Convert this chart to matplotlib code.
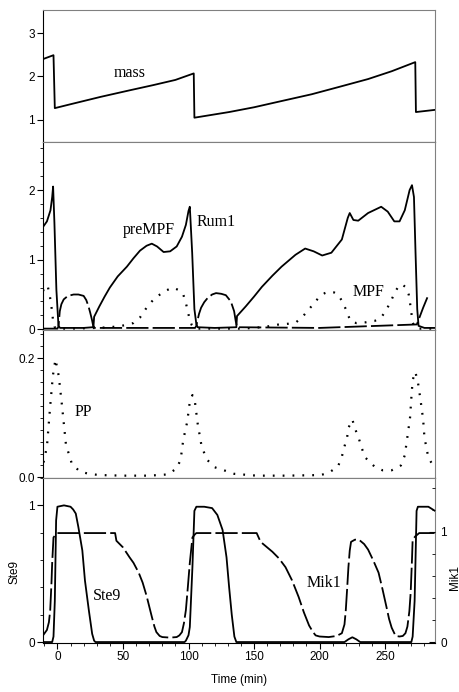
import matplotlib
matplotlib.use('Agg')
import matplotlib.pyplot as plt
from matplotlib.ticker import MultipleLocator

plt.rcParams['font.family'] = ['Liberation Sans', 'DejaVu Sans']
plt.rcParams['lines.scale_dashes'] = False

## --- data (time in min) ---
mass_t = [-11, -3, -2, 10, 33, 55, 73, 90, 104, 104.5, 131, 150, 169, 194, 215, 237, 255, 273, 273.5, 288]
mass_v = [2.40, 2.49, 1.27, 1.36, 1.53, 1.68, 1.80, 1.92, 2.07, 1.05, 1.18, 1.29, 1.42, 1.59, 1.76, 1.94, 2.12, 2.33, 1.18, 1.23]

premp_t = [-11, -8, -5.3, -4, -3.3, -2.3, -0.8, 0.8, 2, 10, 20, 27, 27.5, 28, 32, 36, 40, 46, 53, 58, 63,
           68, 72, 76, 81, 86, 91, 95, 98, 100, 101, 102.8, 104.5, 106, 107, 120, 136.5, 137, 143.7, 150,
           156, 164, 171, 181.6, 189, 195.5, 202, 209, 217, 221.5, 223, 225.8, 229.5, 237, 247, 252, 257,
           261, 265, 268.7, 270.5, 272, 273.2, 274.5, 275.5, 280, 288]
premp_v = [1.47, 1.55, 1.71, 1.90, 2.05, 1.53, 0.57, 0.05, 0.02, 0.02, 0.02, 0.03, 0.04, 0.18, 0.33, 0.47,
           0.60, 0.76, 0.90, 1.02, 1.13, 1.20, 1.23, 1.19, 1.11, 1.12, 1.19, 1.33, 1.50, 1.70, 1.76, 1.10,
           0.29, 0.07, 0.03, 0.02, 0.03, 0.19, 0.33, 0.47, 0.61, 0.77, 0.90, 1.07, 1.16, 1.12, 1.06, 1.10,
           1.29, 1.60, 1.67, 1.57, 1.56, 1.67, 1.76, 1.69, 1.55, 1.55, 1.71, 2.00, 2.07, 1.90, 1.10, 0.29,
           0.05, 0.02, 0.02]

rum1_t = [-11, 0, 0.8, 1.8, 3, 4.8, 8, 12.4, 16, 20, 22, 23.7, 25, 26.3, 27.3, 28.5, 60, 105, 106, 107,
          108, 109.6, 112, 114.6, 118, 121, 125, 128.5, 132.3, 134.8, 136, 137, 200, 274.2, 276, 279, 282.5]
rum1_v = [0.01, 0.01, 0.04, 0.26, 0.36, 0.43, 0.48, 0.50, 0.50, 0.48, 0.42, 0.33, 0.24, 0.14, 0.05, 0.02,
          0.02, 0.02, 0.05, 0.14, 0.22, 0.31, 0.39, 0.45, 0.50, 0.52, 0.51, 0.49, 0.40, 0.26, 0.12, 0.03,
          0.02, 0.07, 0.16, 0.31, 0.47]

mpf_t = [-11, -9, -7.4, -5.8, -4.8, -4, -3.3, -2.3, -1, 10, 30, 40, 45, 52, 58, 63, 68, 72, 76, 82, 88,
         93, 96, 98, 99.5, 101, 102.5, 104, 106, 140, 150, 160, 169, 176, 182, 187, 192, 196, 200, 204,
         207, 211, 214, 217, 220, 222, 224, 228, 235, 242, 247, 251, 255, 258, 261, 264, 266, 268, 269,
         270, 271, 272.5, 275, 288]
mpf_v = [0.55, 0.63, 0.62, 0.48, 0.36, 0.24, 0.12, 0.04, 0.01, 0.01, 0.02, 0.03, 0.04, 0.06, 0.09, 0.17,
         0.31, 0.40, 0.47, 0.55, 0.60, 0.56, 0.50, 0.38, 0.25, 0.14, 0.06, 0.02, 0.01, 0.01, 0.02, 0.04,
         0.07, 0.08, 0.10, 0.18, 0.29, 0.38, 0.47, 0.52, 0.54, 0.53, 0.50, 0.41, 0.29, 0.19, 0.11, 0.09,
         0.10, 0.12, 0.17, 0.28, 0.43, 0.55, 0.64, 0.63, 0.60, 0.50, 0.38, 0.24, 0.10, 0.03, 0.01, 0.01]

pp_t = [-10.6, -8, -5.5, -3.5, -1.5, 1, 3.5, 6.5, 11, 17, 24, 32, 50, 70, 84, 91, 94, 96, 99, 101, 103,
        105, 107, 110, 114, 120, 127, 135, 152, 175, 201, 207, 214, 217, 219, 221, 222, 225, 227, 230,
        232, 235, 242, 248, 255, 262, 265, 267, 269, 270, 271, 273, 275, 277, 279, 280, 283, 288]
pp_v = [0.025, 0.052, 0.12, 0.17, 0.198, 0.17, 0.12, 0.055, 0.023, 0.010, 0.006, 0.004, 0.003, 0.003,
        0.005, 0.015, 0.030, 0.063, 0.093, 0.127, 0.138, 0.125, 0.090, 0.052, 0.030, 0.017, 0.012, 0.006,
        0.003, 0.003, 0.004, 0.008, 0.018, 0.035, 0.052, 0.067, 0.083, 0.097, 0.082, 0.065, 0.050, 0.033,
        0.018, 0.012, 0.012, 0.020, 0.037, 0.068, 0.100, 0.133, 0.163, 0.177, 0.160, 0.130, 0.097, 0.067,
        0.033, 0.015]

ste9_t = [-11, -4, -3, -2, -1, 0, 5, 10, 12, 14, 16, 19, 21, 24, 26.5, 28, 29, 97, 98, 100, 101, 103,
          104.5, 106, 112, 118, 122, 126, 129, 131, 133, 135, 136.5, 219, 222, 225, 228, 231, 270, 271,
          272.5, 274, 275, 283, 288]
ste9_v = [0.0, 0.0, 0.04, 0.30, 0.89, 0.99, 1.0, 0.99, 0.97, 0.94, 0.84, 0.67, 0.45, 0.23, 0.06, 0.01,
          0.0, 0.0, 0.01, 0.05, 0.11, 0.55, 0.96, 0.99, 0.99, 0.98, 0.93, 0.82, 0.62, 0.40, 0.20, 0.04,
          0.0, 0.0, 0.02, 0.035, 0.02, 0.0, 0.0, 0.04, 0.30, 0.96, 0.99, 0.99, 0.96]

mik1_t = [-11, -8, -6.5, -5.5, -4.5, -4, -3, -1, 0, 44, 45, 50, 55, 58, 62, 65, 68, 72, 74, 75.5, 78, 80,
          86, 91, 93, 95, 96.5, 98, 99.5, 101, 103, 105, 106, 152, 155, 160, 164, 169, 174, 179, 184, 188,
          192, 195, 197, 200, 207, 213, 217, 219, 220, 221, 222, 223, 224, 227, 230, 234, 237, 241, 245,
          248, 251, 253, 255, 258, 261, 263.5, 265.5, 267, 268.5, 269.5, 270.5, 271, 273, 276, 288]
mik1_v = [0.06, 0.11, 0.18, 0.29, 0.55, 0.72, 0.95, 0.98, 0.99, 0.99, 0.92, 0.86, 0.77, 0.72, 0.63, 0.54,
          0.42, 0.23, 0.14, 0.09, 0.055, 0.045, 0.04, 0.045, 0.06, 0.09, 0.17, 0.29, 0.50, 0.72, 0.95,
          0.98, 0.99, 0.99, 0.91, 0.86, 0.82, 0.76, 0.68, 0.56, 0.41, 0.27, 0.15, 0.09, 0.06, 0.05, 0.045,
          0.055, 0.08, 0.16, 0.29, 0.48, 0.68, 0.83, 0.91, 0.93, 0.93, 0.89, 0.84, 0.74, 0.63, 0.48, 0.32,
          0.21, 0.13, 0.055, 0.05, 0.055, 0.08, 0.14, 0.28, 0.45, 0.75, 0.93, 0.96, 0.99, 0.99]

## --- styling ---
LW = 1.3
longdash = (0, (16, 3))
dots = (0, (1.3, 5.8))
serif = dict(family='Liberation Serif', fontsize=11.5)

fig = plt.figure(figsize=(4.6, 6.92), dpi=100)
left, width = 0.0935, 0.852
ax1 = fig.add_axes([left, 0.7948, width, 0.1907])
ax2 = fig.add_axes([left, 0.5231, width, 0.2717])
ax3 = fig.add_axes([left, 0.3092, width, 0.2139])
ax4 = fig.add_axes([left, 0.0708, width, 0.2384])
ax4r = ax4.twinx()

for ax in (ax1, ax2, ax3, ax4):
    ax.set_xlim(-11, 288)
    ax.xaxis.set_major_locator(MultipleLocator(50))
    ax.xaxis.set_minor_locator(MultipleLocator(10))
    ax.tick_params(axis='both', which='major', direction='out', length=4, width=0.8, labelsize=8.5, pad=2)
    ax.tick_params(axis='both', which='minor', direction='out', length=2.5, width=0.6)
    ax.spines['left'].set_color('black')
    ax.spines['bottom'].set_color('black')
    ax.spines['top'].set_color('0.5')
    ax.spines['right'].set_color('0.5')
    for s in ax.spines.values():
        s.set_linewidth(0.8)
    if ax is not ax4:
        ax.tick_params(axis='x', labelbottom=False)

# mass
ax1.plot(mass_t, mass_v, color='black', lw=LW)
ax1.set_ylim(0.49, 3.53)
ax1.set_yticks([1, 2, 3])
ax1.text(55, 2.08, 'mass', ha='center', va='center', **serif)

# preMPF, Rum1, MPF
ax2.plot(premp_t, premp_v, color='black', lw=LW)
ax2.plot(rum1_t, rum1_v, color='black', lw=LW, linestyle=longdash)
ax2.plot(mpf_t, mpf_v, color='black', lw=1.6, linestyle=dots)
ax2.set_ylim(-0.01, 2.69)
ax2.set_yticks([0, 1, 2])
ax2.yaxis.set_minor_locator(MultipleLocator(0.2))
ax2.text(70, 1.43, 'preMPF', ha='center', va='center', **serif)
ax2.text(121, 1.54, 'Rum1', ha='center', va='center', **serif)
ax2.text(237, 0.53, 'MPF', ha='center', va='center', **serif)

# PP
ax3.plot(pp_t, pp_v, color='black', lw=1.6, linestyle=dots)
ax3.set_ylim(-0.001, 0.247)
ax3.set_yticks([0.0, 0.2])
ax3.set_yticklabels(['0.0', '0.2'])
ax3.yaxis.set_minor_locator(MultipleLocator(0.02))
ax3.text(20, 0.11, 'PP', ha='center', va='center', **serif)

# Ste9 / Mik1
ax4.plot(ste9_t, ste9_v, color='black', lw=LW)
ax4.set_ylim(-0.007, 1.2)
ax4.set_yticks([0, 1])
ax4.yaxis.set_minor_locator(MultipleLocator(0.2))
ax4r.plot(mik1_t, mik1_v, color='black', lw=LW, linestyle=longdash)
ax4r.set_ylim(-0.009, 1.49)
ax4r.set_yticks([0, 1])
ax4r.yaxis.set_minor_locator(MultipleLocator(0.2))
ax4r.tick_params(axis='y', which='major', direction='in', length=4, labelsize=8.5, pad=4)
ax4r.tick_params(axis='y', which='minor', direction='in', length=2, width=0.6)
for s in ax4r.spines.values():
    s.set_visible(False)
ax4.text(38, 0.34, 'Ste9', ha='center', va='center', **serif)
ax4.text(203, 0.43, 'Mik1', ha='center', va='center', **serif)
ax4.set_xlabel('Time (min)', fontsize=8.5, labelpad=8)

fig.text(15 / 460, 1 - 572 / 692, 'Ste9', rotation=90, ha='center', va='center', fontsize=8.5)
fig.text(455 / 460, 1 - 577 / 692, 'Mik1', rotation=90, ha='center', va='center', fontsize=8.5)

fig.savefig('out.png', dpi=100)
